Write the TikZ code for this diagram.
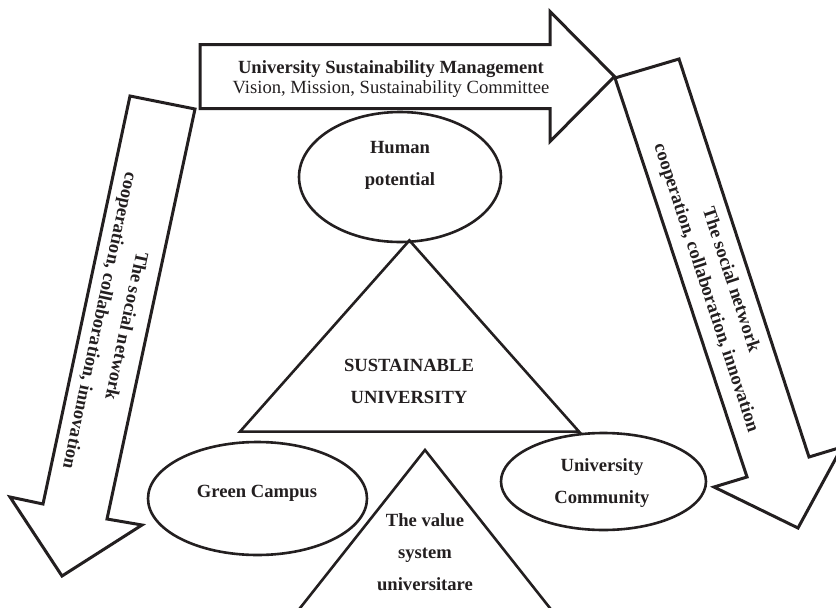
\documentclass[tikz,border=0pt]{standalone}
\usepackage{fontspec}
\setmainfont{Liberation Serif}
\usetikzlibrary{shapes.geometric}
\definecolor{ink}{RGB}{35,31,32}
\begin{document}
\begin{tikzpicture}[x=1pt,y=-1pt,
  bigarrow/.style={draw=ink, line width=3pt, line join=miter},
  shapeline/.style={draw=ink, line width=2.6pt, line join=miter},
  oval/.style={shapeline, ellipse, inner sep=0pt},
  lbl/.style={text=ink, font=\fontsize{18.6}{32}\selectfont\bfseries, align=center, inner sep=0pt},
]
\useasboundingbox (0,0) rectangle (836,608);
\clip (0,0) rectangle (836,608);

% top arrow
\draw[bigarrow] (200,44.5) -- (550,44.5) -- (550,11.5) -- (614.5,76.5) -- (550,141.5) -- (550,108.5) -- (200,108.5) -- cycle;
\node[lbl, font=\fontsize{18.6}{20}\selectfont] (usm) at (391,79)
  {\textbf{University Sustainability Management}\\Vision, Mission, Sustainability Committee};

% left arrow
\draw[bigarrow] (130,96) -- (195,109) -- (107,519) -- (142,525) -- (62,576) -- (10,497) -- (43,504) -- cycle;
\node[lbl, rotate=-102, font=\fontsize{18.6}{27}\selectfont\bfseries] (leftnet) at (112,323)
  {The social network\\cooperation, collaboration, innovation};

% right arrow
\draw[bigarrow] (615,78) -- (679,59) -- (809,457) -- (842,447) -- (798,528) -- (714,487) -- (747,477) -- cycle;
\node[lbl, rotate=-71.8, font=\fontsize{18.6}{26}\selectfont\bfseries] (rightnet) at (718,284)
  {The social network\\cooperation, collaboration, innovation};

% Human potential
\node[oval, minimum width=202pt, minimum height=130pt] (human) at (400,177) {};
\node[lbl] (humantxt) at (400,165) {Human\\potential};

% Sustainable university triangle
\coordinate (ta) at (409.4,240.4);
\coordinate (tl) at (240,431.6);
\coordinate (tr) at (579,431.6);
\draw[shapeline] (ta) -- (tr) -- (tl) -- cycle;
\node[lbl] (sutxt) at (409,381) {SUSTAINABLE\\UNIVERSITY};

% Green Campus
\node[oval, minimum width=219pt, minimum height=113pt] (green) at (257.5,498.5) {};
\node[lbl] (greentxt) at (257,493) {Green Campus};

% University Community
\node[oval, minimum width=205pt, minimum height=97pt] (community) at (603.5,481.5) {};
\node[lbl] (commtxt) at (602,483) {University\\Community};

% value system triangle
\coordinate (va) at (425,450);
\coordinate (vl) at (259,660);
\coordinate (vr) at (591,660);
\draw[shapeline] (va) -- (vr) -- (vl) -- cycle;
\node[lbl] (valtxt) at (425,552) {The value\\system\\universitare};
\end{tikzpicture}
\end{document}
